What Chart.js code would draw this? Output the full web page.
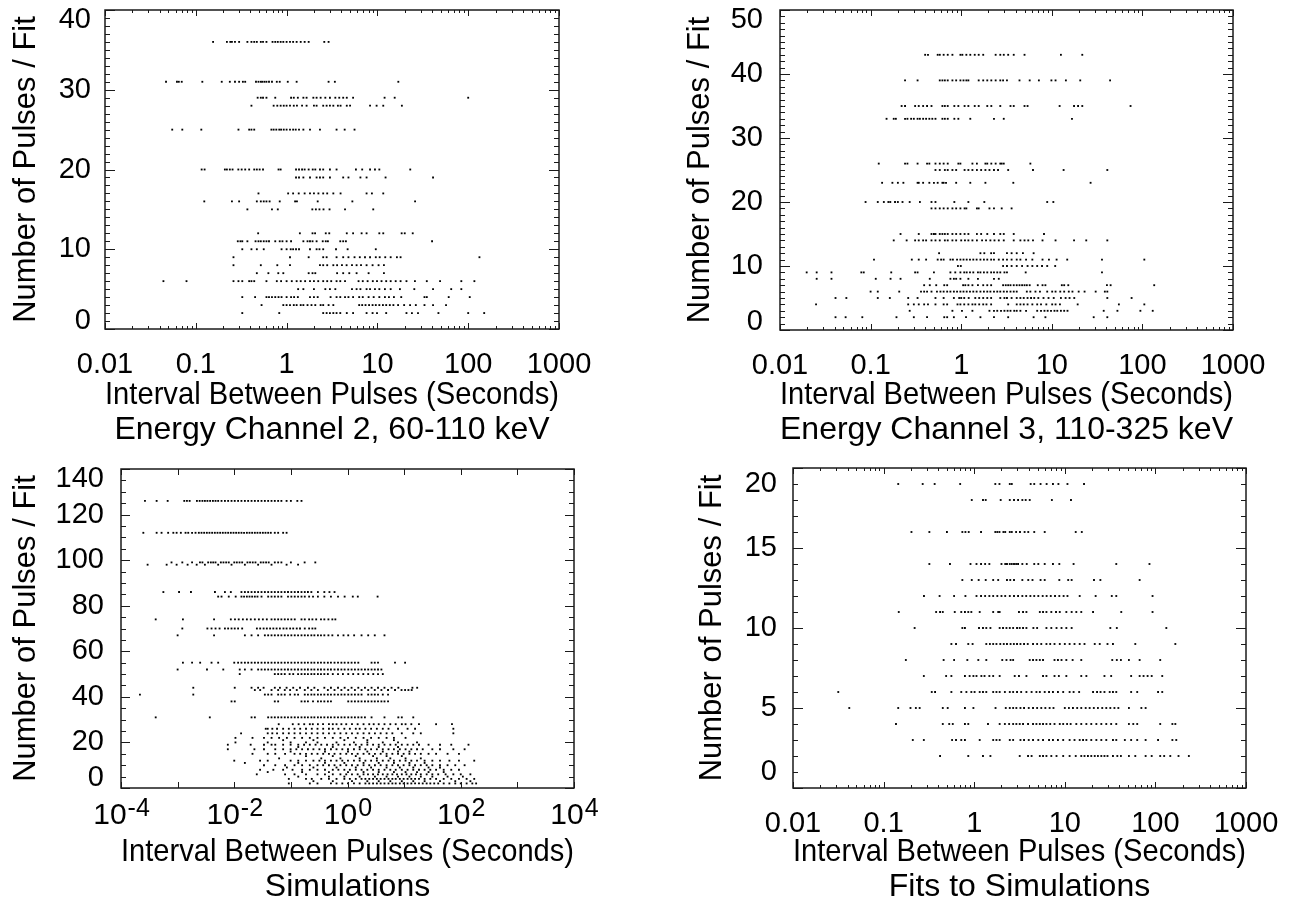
<!DOCTYPE html>
<html>
<head>
<meta charset="utf-8">
<title>Pulse Interval Distributions</title>
<script src="https://cdn.jsdelivr.net/npm/chart.js"></script>
<style>
  body { margin: 0; background: #ffffff; }
  #page { position: relative; width: 1299px; height: 909px; }
  canvas { position: absolute; }
</style>
</head>
<body>
<div id="page">
  <canvas id="ch2" width="650" height="450" style="left:0;top:0"></canvas>
  <canvas id="ch3" width="649" height="450" style="left:650px;top:0"></canvas>
  <canvas id="sim" width="650" height="459" style="left:0;top:450px"></canvas>
  <canvas id="fit" width="649" height="459" style="left:650px;top:450px"></canvas>
</div>
<script>
const FONT = "'Liberation Sans', Arial, Helvetica, sans-serif";
const xTitle = 'Interval Between Pulses (Seconds)';
const yTitle = 'Number of Pulses / Fit';

// tick values / labels
const decadeTicks = [0.01, 0.1, 1, 10, 100, 1000];
const decadeLabels = ['0.01', '0.1', '1', '10', '100', '1000'];
const simDecadeTicks = [1e-4, 1e-3, 1e-2, 1e-1, 1, 10, 100, 1000, 10000];
const simExponents = ['-4', '', '-2', '', '0', '', '2', '', '4'];
const ch2YTicks = [0, 10, 20, 30, 40];
const ch3YTicks = [0, 10, 20, 30, 40, 50];
const simYTicks = [0, 20, 40, 60, 80, 100, 120, 140];
const fitYTicks = [0, 5, 10, 15, 20];

// Energy channel 2: pulses per fit and the intervals (s) seen at that count
const ch2Counts = [36, 31, 29, 28, 25, 20, 19, 17, 16, 15, 12, 11, 10, 9, 8, 7, 6, 5, 4, 3, 2];
const ch2Intervals = [
  [0.155,0.22,0.24,0.25,0.27,0.30,0.37,0.41,0.44,0.47,0.52,0.55,0.60,0.70,0.75,0.80,0.86,0.92,1.0,1.09,1.18,1.29,1.43,1.58,1.75,2.6,2.9],
  [0.047,0.062,0.065,0.07,0.118,0.193,0.237,0.27,0.30,0.33,0.35,0.46,0.49,0.52,0.54,0.57,0.60,0.64,0.69,0.78,0.84,1.03,1.29,2.9,3.4,17],
  [0.48,0.52,0.55,0.60,0.75,1.12,1.2,1.33,1.53,1.66,1.97,2.14,2.37,2.67,3.0,3.44,3.8,4.2,4.6,5.4,12,15.5,100],
  [0.41,0.72,0.79,0.86,0.93,1.0,1.09,1.2,1.3,1.48,1.66,2.0,2.14,2.53,2.76,3.0,3.27,3.67,3.93,4.6,5.0,8.3,9.8,11.6,18.6],
  [0.055,0.071,0.115,0.295,0.387,0.41,0.44,0.68,0.72,0.77,0.83,0.87,0.93,1.0,1.09,1.18,1.26,1.37,1.53,1.81,2.33,3.55,4.36,5.6],
  [0.116,0.125,0.209,0.22,0.237,0.254,0.294,0.32,0.35,0.387,0.44,0.47,0.505,0.55,0.815,0.86,1.27,1.37,1.48,1.58,1.75,1.94,2.07,2.33,2.53,3.0,3.55,5.8,6.8,8.3,9.4,10.5,23],
  [1.27,1.37,1.53,1.81,2.14,2.33,2.53,3.0,4.2,4.8,6.5,7.6,12.3,41],
  [0.49,1.04,1.18,1.36,1.58,1.81,2.0,2.24,2.53,2.8,3.27,3.93,7.6,8.7,11.6],
  [0.124,0.25,0.30,0.47,0.52,0.56,0.60,0.65,0.84,1.24,1.3,2.2,5.3,26],
  [0.37,0.69,0.80,1.92,2.1,2.3,2.55,2.97,4.4,9.0],
  [0.486,1.4,1.93,2.06,2.7,2.95,4.6,5.4,6.7,7.6,10.5,11.6,18.5,20,24.5],
  [0.29,0.31,0.325,0.37,0.455,0.49,0.52,0.56,0.60,0.64,0.75,0.84,0.90,1.0,1.12,1.53,1.7,1.81,1.93,2.14,2.5,2.7,2.85,3.9,4.2,4.5,40],
  [0.325,0.41,0.47,0.56,0.88,1.0,1.11,1.18,1.27,1.37,1.81,2.14,2.3,2.53,3.5,4.7,9.6],
  [0.26,1.09,1.75,2.53,2.76,3.55,4.2,4.8,5.6,6.4,7.3,8.3,9.6,10.6,12.2,14,16.4,18,133],
  [0.26,0.52,0.79,1.09,2.33,2.53,2.8,3.27,3.6,4.07,4.58,5.25,5.9,6.6,7.6,8.85,10.3,11.8],
  [0.47,0.63,0.81,0.92,1.75,1.93,2.07,3.6,4.2,4.9,5.9,8.0,11.8],
  [0.044,0.079,0.26,0.295,0.325,0.387,0.41,0.44,0.60,0.78,0.87,1.0,1.14,1.29,1.43,1.6,1.81,2.0,2.23,2.53,2.8,3.1,3.55,3.9,4.4,6.2,6.9,7.8,8.9,9.9,11.1,12.5,14,15.9,18,20.9,25.9,35,49,84,117],
  [1.34,1.53,2.0,2.67,3.0,3.44,5.25,5.9,6.5,7.6,8.3,9.4,10.5,12.1,14,17.7,25.5,41,65,84],
  [0.325,0.45,0.60,0.64,0.69,0.75,0.815,0.88,1.0,1.12,1.21,1.33,1.81,2.0,2.2,3.05,3.55,3.9,4.4,4.8,5.4,6.3,6.9,8.0,9.1,10.5,12.1,13.4,15.2,18.3,33,35,61,104],
  [0.53,0.92,1.0,1.09,1.2,1.29,1.43,1.53,1.7,1.88,2.07,2.37,2.53,2.9,3.27,6.3,6.8,7.4,8.1,8.85,9.6,10.5,11.5,12.5,13.7,15,16.9,19.7,22.9,26.5,33,41,57],
  [0.325,0.83,2.53,2.76,3.0,3.27,3.55,3.9,4.6,5.4,7.6,8.85,9.9,12.5,20.9,24,28,47,100,150]
];

// Energy channel 3
const ch3Counts = [43, 39, 35, 33, 26, 25, 23, 20, 19, 15, 14, 12, 11, 10, 9, 8, 7, 6, 5, 4, 3, 2];
const ch3Intervals = [
  [0.40,0.43,0.55,0.58,0.64,0.71,0.80,0.98,1.03,1.14,1.26,1.41,1.56,1.75,2.4,2.7,2.95,3.3,3.8,5.0,12.6,21.7],
  [0.24,0.33,0.58,0.62,0.66,0.71,0.80,0.88,0.98,1.06,1.14,1.2,1.56,1.75,1.94,2.15,2.4,2.7,2.9,3.2,4.4,5.7,7.2,9.9,11,14.3,20.6,44],
  [0.22,0.24,0.31,0.34,0.38,0.42,0.47,0.62,0.66,0.71,0.84,0.93,1.09,1.2,1.41,1.56,1.94,2.15,2.7,3.5,3.8,5.0,5.4,12.2,17.6,19.5,21.7,74],
  [0.15,0.18,0.19,0.24,0.255,0.28,0.30,0.33,0.35,0.38,0.41,0.445,0.48,0.52,0.62,0.66,0.71,0.84,0.93,1.26,2.3,2.95,16.7],
  [0.123,0.24,0.255,0.33,0.42,0.445,0.52,0.58,0.64,0.71,0.93,0.98,1.33,1.49,1.85,1.94,2.15,2.4,2.7,2.8,2.95,5.8],
  [0.52,0.58,0.66,0.71,0.80,0.88,1.09,1.2,1.33,1.49,1.66,1.85,2.05,2.3,2.55,3.3,6.2,13.5,41],
  [0.134,0.174,0.20,0.23,0.33,0.34,0.38,0.445,0.50,0.55,0.62,0.64,0.68,0.88,1.26,1.85,3.76,26.8],
  [0.088,0.12,0.14,0.157,0.165,0.186,0.20,0.225,0.27,0.35,0.47,0.52,0.84,1.2,1.8,8.9,10.4],
  [0.47,0.52,0.58,0.64,0.71,0.80,0.88,0.98,1.09,1.14,1.49,1.56,2.05,2.3,2.8,3.6],
  [0.214,0.34,0.47,0.50,0.52,0.58,0.62,0.66,0.71,0.80,0.88,0.98,1.09,1.2,1.49,1.66,1.94,2.3,2.7,2.95,3.8,8.2],
  [0.18,0.25,0.31,0.34,0.38,0.41,0.47,0.52,0.58,0.66,0.71,0.80,0.88,1.0,1.1,1.2,1.33,1.49,1.7,1.88,2.1,2.33,2.6,2.95,3.8,4.5,5.0,5.5,6.2,7.9,11,17.6,24,41],
  [0.57,1.63,1.8,2.14,2.3,3.2,3.6,4.1,4.8,6.3],
  [0.109,0.285,0.34,0.41,0.55,0.60,0.64,0.76,0.81,0.90,0.98,1.06,1.15,1.25,1.36,1.48,1.63,1.78,1.94,2.14,2.3,2.6,2.9,3.2,3.6,4.1,4.5,5.2,6.1,7.9,9.3,11.3,14.8,35.8,105],
  [0.92,0.99,2.9,3.2,3.6,4.1,4.7,5.4,6.1,6.9,7.8,8.9,10.9],
  [0.0197,0.0254,0.037,0.079,0.084,0.169,0.31,0.33,0.50,0.76,0.86,0.98,1.08,1.15,1.25,1.36,1.53,1.63,1.78,1.94,2.14,2.3,2.5,2.7,3.0,3.2,5.15,35.8],
  [0.0254,0.037,0.114,0.166,0.214,0.45,0.76,0.83,0.88,0.98,1.2,1.53,2.3,2.6],
  [0.39,0.45,0.53,0.65,0.70,1.05,1.11,1.2,1.33,1.53,1.75,1.94,2.14,2.9,3.1,3.3,3.5,3.8,4.1,4.4,4.7,5.0,5.3,5.7,7.0,7.9,8.5,12.9,13.7,15.2,40.6,44.6,135],
  [0.1,0.12,0.207,0.36,0.39,0.42,0.47,0.54,0.59,0.64,0.70,0.76,0.83,0.90,0.98,1.06,1.15,1.25,1.36,1.48,1.63,1.78,1.94,2.1,2.3,2.5,2.7,2.95,3.2,3.5,3.8,4.1,5.3,5.8,6.6,7.4,8.9,10.1,11.0,12.4,13.7,15.4,16.9,19.8,23,30.5,38.5,41],
  [0.041,0.054,0.12,0.163,0.26,0.33,0.52,0.64,0.83,0.95,1.0,1.08,1.21,1.43,1.58,1.75,1.94,2.14,2.7,3.0,3.2,3.6,4.1,4.5,4.9,5.4,5.9,6.4,7.1,8.1,9.2,10.5,12.6,14.2,15.7,17.7,41,76],
  [0.025,0.26,0.30,0.34,0.39,0.43,0.52,0.64,0.70,0.91,0.98,1.08,1.2,1.33,1.43,1.58,1.75,1.9,2.14,3.3,4.1,4.5,4.9,5.4,6.1,6.9,7.6,8.7,10.1,11.0,12.3,19.3,55,105],
  [0.27,0.80,1.02,1.33,2.05,2.3,2.5,2.75,3.0,3.25,3.5,3.85,4.1,4.5,5.2,6.9,7.6,8.3,9.0,9.8,10.7,11.5,12.6,13.7,14.9,37.4,53,95,130],
  [0.041,0.053,0.081,0.193,0.30,0.42,0.65,0.70,0.83,1.13,1.63,2.3,3.3,6.3,8.5,29,41]
];

// Simulations
const simCounts = [126, 112, 99, 98, 86, 84, 74, 70, 67, 55, 52, 50, 44, 43, 41, 38, 31, 28, 26, 24, 22, 21, 20, 19, 18, 17, 16, 15, 14, 13, 12, 11, 10, 9, 8, 7, 6, 5, 4, 3, 2];
const simIntervals = [
  [2.65e-4,4.26e-4,6.67e-4,1.31e-3,1.46e-3,1.63e-3,2.19e-3,2.45e-3,2.74e-3,3.03e-3,3.36e-3,3.75e-3,4.2e-3,4.67e-3,5.2e-3,5.96e-3,6.84e-3,7.8e-3,8.95e-3,0.0102,0.0117,0.0134,0.0154,0.0176,0.0202,0.0231,0.0264,0.0303,0.0347,0.0397,0.0455,0.052,0.0596,0.068,0.084,0.1,0.13,0.154],
  [2.48e-4,4.26e-4,5.2e-4,6.8e-4,8.4e-4,9.6e-4,1.14e-3,1.38e-3,1.54e-3,1.8e-3,2.07e-3,2.37e-3,2.64e-3,2.94e-3,3.28e-3,3.65e-3,4.07e-3,4.54e-3,5.06e-3,5.64e-3,6.28e-3,7e-3,7.8e-3,8.7e-3,9.7e-3,0.0108,0.012,0.0134,0.0149,0.0167,0.0186,0.0207,0.0231,0.0257,0.0287,0.032,0.0356,0.0397,0.0442,0.052,0.0596,0.073,0.084],
  [7.8e-4,1.21e-3,1.8e-3,2.48e-3,2.74e-3,3.46e-3,3.86e-3,4.25e-3,4.67e-3,5.8e-3,6.45e-3,7.2e-3,8e-3,0.01,0.0111,0.0124,0.0138,0.0171,0.019,0.0212,0.0237,0.0294,0.0327,0.0365,0.0406,0.052,0.0596,0.068,0.1,0.175,0.27],
  [2.95e-4,6.4e-4,9.6e-4,1.5e-3,2.17e-3,3.03e-3,5.2e-3,8.95e-3,0.0154,0.0264,0.0455,0.084,0.134],
  [5.6e-4,1.06e-3,1.72e-3,4.56e-3,6.84e-3,8.7e-3,0.0134,0.0154,0.0176,0.0202,0.0231,0.0264,0.0303,0.0347,0.0397,0.0455,0.052,0.0596,0.068,0.078,0.089,0.102,0.117,0.134,0.154,0.176,0.2,0.23,0.30,0.39,0.48,0.59],
  [5.2e-3,5.96e-3,8e-3,0.0106,0.0134,0.0149,0.0167,0.0186,0.0207,0.0231,0.0257,0.0303,0.0397,0.0455,0.052,0.0596,0.068,0.089,0.102,0.117,0.134,0.154,0.176,0.21,0.246,0.30,0.39,0.51,0.68,0.89,1.24,1.52,3.4],
  [4.1e-4,1.24e-3,4.4e-3,8.7e-3,0.0103,0.012,0.0142,0.0167,0.0196,0.0231,0.0272,0.032,0.0376,0.0455,0.052,0.0596,0.068,0.078,0.089,0.102,0.117,0.154,0.176,0.21,0.24,0.28,0.34,0.39,0.46,0.54,0.61],
  [1.21e-3,3.36e-3,3.97e-3,4.67e-3,5.5e-3,6.84e-3,7.8e-3,8.95e-3,0.0102,0.0117,0.0138,0.0251,0.0287,0.033,0.0376,0.043,0.049,0.056,0.064,0.074,0.084,0.097,0.11,0.127,0.145,0.176,0.21,0.24,0.27],
  [1.0e-3,4.4e-3,0.0154,0.0202,0.0264,0.0347,0.0397,0.0455,0.052,0.0596,0.068,0.078,0.089,0.102,0.117,0.134,0.154,0.176,0.2,0.23,0.26,0.30,0.34,0.39,0.46,0.54,0.68,0.85,1.03,1.31,1.77,2.32,3.03,4.5],
  [1.24e-3,1.8e-3,2.5e-3,3.97e-3,5.2e-3,0.01,0.0117,0.0134,0.0154,0.0176,0.0202,0.0231,0.0264,0.0303,0.0347,0.0397,0.0455,0.052,0.0596,0.068,0.078,0.089,0.102,0.117,0.134,0.154,0.176,0.2,0.23,0.26,0.30,0.34,0.39,0.45,0.51,0.59,0.68,0.78,0.89,1.03,1.18,1.35,1.55,2.66,3.03,3.46,6.9,10.4],
  [1.0e-3,3.3e-3,6.4e-3,0.0125,0.0154,0.0202,0.0264,0.0303,0.0347,0.0397,0.0455,0.052,0.0596,0.068,0.078,0.089,0.102,0.117,0.134,0.154,0.176,0.2,0.23,0.26,0.30,0.34,0.39,0.45,0.51,0.59,0.68,0.78,0.89,1.03,1.18,1.35,1.55,1.77,2.03,2.32,2.66,3.03,3.46,3.97],
  [0.0125,0.052,0.0596,0.068,0.078,0.095,0.11,0.134,0.154,0.176,0.2,0.23,0.26,0.30,0.34,0.39,0.45,0.55,0.68,0.83,1.03,1.26,1.55,1.9,2.32,2.85,3.46,4.2],
  [1.89e-3,0.0102,0.0202,0.0264,0.033,0.052,0.064,0.084,0.11,0.145,0.2,0.26,0.39,0.51,0.68,0.89,1.18,1.55,2.03,2.66,3.46,4.5,6.0,7.9,14,17],
  [0.0231,0.0287,0.0455,0.0596,0.078,0.097,0.127,0.176,0.23,0.30,0.45,0.59,0.78,1.03,1.35,1.77,2.32,3.03,3.97,5.2,6.9,9.0,10.4,11.9,13.6],
  [2.16e-4,1.89e-3,0.0347,0.0397,0.0455,0.0596,0.068,0.078,0.097,0.117,0.134,0.176,0.2,0.23,0.26,0.30,0.34,0.39,0.45,0.51,0.59,0.68,0.78,0.89,1.03,1.18,1.35,1.55,1.77,2.32,2.66,3.03,3.46,4.2,5.2],
  [8.95e-3,0.0102,0.052,0.0596,0.154,0.176,0.2,0.246,0.30,0.34,0.39,0.45,0.51,1.03,1.18,1.35,1.55,1.77,2.03,2.32,2.66,3.03,3.46,3.97,4.5,5.2],
  [4.1e-4,3.7e-3,0.0202,0.0231,0.0397,0.0455,0.052,0.0596,0.068,0.078,0.089,0.102,0.117,0.134,0.154,0.176,0.2,0.23,0.26,0.30,0.34,0.39,0.45,0.51,0.59,0.68,0.78,0.89,1.03,1.18,1.35,1.55,1.77,2.03,2.66,4.5,7.9,9.1,14.5],
  [0.061,0.108,0.137,0.172,0.216,0.244,0.30,0.37,0.47,0.55,0.64,0.78,0.95,1.2,1.51,1.92,2.42,2.9,3.56,4.5,5.7,7.1,9.1,10.6,13.4,18.3,36.7,70],
  [0.036,0.039,0.047,0.057,0.073,0.092,0.116,0.146,0.185,0.234,0.295,0.372,0.47,0.55,0.69,0.88,1.1,1.4,1.64,2.07,2.61,3.3,4.2,5.3,7.8,11.5,15.6,74],
  [0.0132,0.039,0.047,0.057,0.073,0.092,0.116,0.146,0.185,0.234,0.295,0.372,0.47,0.59,0.75,0.95,1.2,1.51,1.92,2.42,3.05,3.85,4.9,6.2,9.1,14.5,19.7,74],
  [0.0105,0.021,0.0335,0.0456,0.062,0.085,0.116,0.158,0.216,0.295,0.40,0.55,0.75,1.02,1.4,1.92,2.61,3.56,4.9,6.6,10.6],
  [0.073,0.25,0.88,2.24,6.6],
  [0.0105,0.039,0.099,0.185,0.295,0.64,1.3,2.24,4.2,7.8,16.9],
  [7.7e-3,0.0195,0.0335,0.0456,0.053,0.073,0.099,0.135,0.171,0.216,0.273,0.344,0.435,0.55,0.69,0.88,1.1,1.4,1.77,2.24,2.83,3.56,4.5,5.7,7.1,9.1,11.5,14.5,18.3,27,43,68,137],
  [0.135,0.55,1.64,3.56,7.8],
  [7.7e-3,0.0227,0.0335,0.053,0.073,0.099,0.125,0.158,0.2,0.25,0.319,0.40,0.51,0.64,0.81,1.02,1.3,1.64,2.07,2.61,3.3,4.2,5.3,6.6,8.4,10.6,13.4,16.9,21.3,31.5,43,74,117],
  [0.099,0.40,1.02,2.24,4.2,7.8,12.4],
  [0.021,0.039,0.053,0.079,0.116,0.146,0.185,0.234,0.295,0.372,0.47,0.59,0.75,0.95,1.2,1.51,1.92,2.42,3.05,3.85,4.9,6.2,7.8,9.8,12.4,15.6,19.7,27,36.7,58.5,93],
  [0.185,0.55,1.4,2.83,4.9,9.1],
  [0.062,0.344,0.75,1.64,3.3,5.7,10.6,19.7],
  [0.01,0.0286,0.039,0.099,0.135,0.185,0.25,0.319,0.40,0.51,0.64,0.81,1.02,1.3,1.64,2.07,2.61,3.3,4.2,5.3,6.6,8.4,10.6,13.4,16.9,23,31.5,43,63,93,173],
  [0.0154,0.135,0.40,0.88,1.92,3.56,6.6,12.4,23],
  [0.0335,0.053,0.079,0.116,0.158,0.216,0.295,0.372,0.47,0.59,0.75,0.95,1.2,1.51,1.92,2.42,3.05,3.85,4.9,6.2,7.8,9.8,12.4,15.6,19.7,25,31.5,43,58.5,80,117],
  [0.085,0.25,0.64,1.4,2.61,4.9,8.4,14.5,27,43],
  [0.0286,0.049,0.073,0.107,0.158,0.216,0.295,0.40,0.55,0.69,0.88,1.1,1.4,1.77,2.24,2.83,3.56,4.5,5.7,7.1,9.1,11.5,14.5,18.3,23,29,36.7,50,68,93],
  [0.039,0.158,0.47,1.02,1.92,3.56,6.6,10.6,16.9,27,50],
  [0.025,0.079,0.116,0.185,0.295,0.40,0.55,0.75,0.95,1.2,1.51,1.92,2.3,2.83,3.45,4.2,5.1,6.2,7.5,9.1,11,13.4,16.2,19.7,25,31.5,40,54,74,100,148],
  [0.135,0.47,0.88,1.64,3.05,4.9,7.8,12.4,19.7,31.5,58.5,109],
  [0.092,0.185,0.234,0.344,0.47,0.64,0.88,1.1,1.4,1.77,2.07,2.42,2.83,3.3,3.85,4.5,5.3,6.2,7.1,8.4,9.8,11.5,13.4,15.6,18.3,23,29,36.7,50,68,93,127,173],
  [0.25,0.55,1.2,2.24,3.56,5.7,9.1,14.5,23,43,80,148],
  [0.092,0.216,0.295,0.51,0.64,0.81,1.02,1.3,1.64,2.07,2.42,2.83,3.3,3.85,4.5,5.3,6.2,7.1,8.4,9.8,11.5,13.4,15.6,18.3,21.3,25,29,34,40,50,63,80,100,127,160,187]
];

// Fits to simulations
const fitCounts = [19, 18, 16, 14, 13, 12, 11, 10, 9, 8, 7, 6, 5, 4, 3, 2];
const fitIntervals = [
  [0.145,0.27,0.366,0.70,1.71,1.9,2.47,2.6,4.2,4.6,5.4,6.3,7.4,8.5,10.7,16.3],
  [0.94,1.25,1.34,1.96,2.47,2.75,3.05,3.4,3.7,4.1,7.2,11.7],
  [0.203,0.32,0.50,0.74,0.80,0.87,1.19,1.71,1.8,1.9,2.1,2.2,2.47,2.6,2.9,3.2,3.6,3.95,4.6,6.0,13.2,15.4],
  [0.32,0.54,0.91,1.06,1.19,1.32,1.47,2.0,2.2,2.3,2.47,2.6,2.75,2.9,3.05,3.4,3.8,4.6,5.1,6.0,7.4,8.7,12.5,37,86],
  [0.74,0.94,1.12,1.34,1.62,1.84,2.3,2.5,2.75,3.4,3.95,4.4,5.4,6.0,8.7,10.9,11.9,21,24.7,67],
  [0.279,0.415,0.60,0.80,1.06,1.19,1.32,1.47,1.62,1.8,2.0,2.2,2.47,2.75,3.05,3.4,3.75,4.17,4.6,5.1,5.7,6.3,7.0,7.8,8.7,9.7,10.7,14.6,21.9,33,37,93],
  [0.147,0.38,0.42,0.45,0.61,0.72,0.79,0.86,0.93,1.15,1.62,1.84,1.91,3.12,3.46,3.77,5.3,5.75,6.27,7.1,8.0,8.8,10.4,11.9,13.4,15.2,20.5,42,93],
  [0.22,0.74,0.79,1.13,1.25,1.36,1.51,1.91,2.08,2.27,2.47,2.69,2.97,3.18,3.46,3.77,4.5,4.95,6.27,7.1,8.1,9.2,10.4,11.9,31.8,37.5,132],
  [0.56,0.63,0.86,0.96,1.36,1.49,1.62,1.76,1.94,2.12,2.3,2.52,2.74,2.97,3.24,3.55,3.9,4.46,4.95,5.5,6.27,6.9,7.7,8.8,10.0,11.3,12.8,14.6,16.5,21.4,24.3,29.6,34,60,166],
  [0.176,0.46,0.60,0.84,1.11,1.36,2.04,2.27,2.52,2.69,4.1,4.46,4.86,5.3,5.75,7.7,8.4,9.2,10.4,12.2,15.2,33.4,37.5,41.6,51,67,113],
  [0.278,0.49,0.56,0.79,0.89,0.98,1.06,1.2,1.3,1.47,1.62,1.91,2.8,3.12,3.77,5.75,6.27,7.7,8.6,10.4,15.2,17.3,27.4,32.5,54,67,74,82,91,119],
  [0.0316,0.34,0.37,0.56,0.72,0.82,0.93,1.01,1.15,1.25,1.36,1.62,1.76,1.91,2.18,2.47,2.69,2.97,3.3,3.77,4.3,4.86,5.3,6.0,6.7,7.4,8.4,9.6,11.3,12.5,14.4,20.5,22.7,24.8,27.4,31.3,34,37,54,63,107,119],
  [0.0418,0.145,0.198,0.227,0.25,0.45,0.51,0.79,0.98,1.72,2.23,2.47,2.69,2.92,3.24,3.55,4.0,4.46,4.95,5.5,6.1,6.8,7.5,10.0,11.1,12.3,13.7,15.2,17,18.8,20.9,23.2,25.9,28.7,31.8,35.3,39,51,70,78],
  [0.137,0.45,0.53,0.58,0.79,0.86,1.42,1.91,2.18,2.43,2.69,2.92,3.18,3.46,3.93,4.46,4.86,5.3,5.75,6.27,6.9,7.7,8.8,9.6,10.6,11.6,13.4,15.2,17.3,19.6,22.3,25.3,28.7,32.5,37,51,57,63,113,154,166],
  [0.21,0.278,0.57,0.63,0.72,0.79,1.15,1.62,1.76,1.91,2.47,2.69,3.24,3.55,4.0,4.46,5.1,5.75,6.7,7.4,8.4,9.6,11.3,12.8,14.6,15.9,17.3,19.6,22.3,25.3,28.7,34,37,46,54,63,78,107,154,170],
  [0.42,0.86,1.25,1.51,3.18,3.93,4.3,5.3,5.75,6.27,7.1,8.1,9.6,11.3,13.2,15.2,16.5,18,19.6,21.4,23.2,25.3,27.4,29.6,34,38,41.6,51,60,78,91,113,125,146,180,234]
];

function toPoints(counts, intervals) {
  const pts = [];
  counts.forEach((n, i) => intervals[i].forEach(t => pts.push({ x: t, y: n })));
  return pts;
}

// box with inward ticks on all four sides, like the original plotting package
const idlFrame = {
  id: 'idlFrame',
  afterDatasetsDraw(chart, args, o) {
    const { ctx, chartArea: a } = chart;
    const x = chart.scales.x, y = chart.scales.y;
    ctx.save();
    ctx.strokeStyle = '#1a1a1a';
    ctx.lineWidth = 1;
    ctx.beginPath();
    const xt = (v, len) => {
      const px = Math.round(x.getPixelForValue(v)) + 0.5;
      ctx.moveTo(px, a.bottom); ctx.lineTo(px, a.bottom - len);
      ctx.moveTo(px, a.top); ctx.lineTo(px, a.top + len);
    };
    const yt = (v, len) => {
      const py = Math.round(y.getPixelForValue(v)) + 0.5;
      ctx.moveTo(a.left, py); ctx.lineTo(a.left + len, py);
      ctx.moveTo(a.right, py); ctx.lineTo(a.right - len, py);
    };
    x.ticks.forEach((t, i) => {
      xt(t.value, o.xMajor);
      if (o.xMinor && i < x.ticks.length - 1) {
        for (let k = 2; k < 10; k++) xt(t.value * k, o.xMinor);
      }
    });
    for (let v = y.min; v <= y.max; v += o.yStep) yt(v, o.yMinor);
    y.ticks.forEach(t => yt(t.value, o.yMajor));
    ctx.stroke();
    ctx.lineWidth = 1.5;
    ctx.strokeRect(a.left, a.top, a.right - a.left, a.bottom - a.top);
    ctx.restore();
  }
};

// "10^n" tick labels for the simulations panel
const powerLabels = {
  id: 'powerLabels',
  afterDraw(chart, args, o) {
    if (!o.exponents) return;
    const { ctx, chartArea: a } = chart;
    const x = chart.scales.x;
    ctx.save();
    ctx.fillStyle = '#000';
    ctx.textAlign = 'left';
    x.ticks.forEach((t, i) => {
      const e = o.exponents[i];
      if (!e) return;
      ctx.font = '30px ' + FONT;
      const wb = ctx.measureText('10').width;
      ctx.font = '25px ' + FONT;
      const we = ctx.measureText(e).width;
      const left = x.getPixelForValue(t.value) - (wb + we) / 2;
      const cy = a.bottom + o.offset;
      ctx.font = '30px ' + FONT;
      ctx.textBaseline = 'middle';
      ctx.fillText('10', left, cy);
      ctx.font = '25px ' + FONT;
      ctx.textBaseline = 'alphabetic';
      ctx.fillText(e, left + wb + 1, cy);
    });
    ctx.restore();
  }
};

const panels = [
  { id: 'ch2', counts: ch2Counts, intervals: ch2Intervals, xTicks: decadeTicks, xLabels: decadeLabels, yTicks: ch2YTicks,
    caption: 'Energy Channel 2, 60-110 keV', padTop: 10, padRight: 91, xAxisHeight: 121, yAxisWidth: 105,
    yLabelPad: 6, yTitlePad: 9, titlePad: 2, topShift: 10, bottomShift: 8,
    frame: { xMajor: 6, xMinor: 3, yMajor: 10, yMinor: 5, yStep: 1 } },
  { id: 'ch3', counts: ch3Counts, intervals: ch3Intervals, xTicks: decadeTicks, xLabels: decadeLabels, yTicks: ch3YTicks,
    caption: 'Energy Channel 3, 110-325 keV', padTop: 10, padRight: 66, xAxisHeight: 120, yAxisWidth: 130,
    yLabelPad: 9, yTitlePad: 33, titlePad: 2, topShift: 10, bottomShift: 8,
    frame: { xMajor: 6, xMinor: 3, yMajor: 10, yMinor: 5, yStep: 1 } },
  { id: 'sim', counts: simCounts, intervals: simIntervals, xTicks: simDecadeTicks, exponents: simExponents, yTicks: simYTicks,
    caption: 'Simulations', padTop: 19, padRight: 76, xAxisHeight: 121, yAxisWidth: 121,
    yLabelPad: 9, yTitlePad: 9, titlePad: 4, topShift: 10, bottomShift: 10,
    frame: { xMajor: 6, xMinor: 0, yMajor: 9, yMinor: 5, yStep: 5 } },
  { id: 'fit', counts: fitCounts, intervals: fitIntervals, xTicks: decadeTicks, xLabels: decadeLabels, yTicks: fitYTicks,
    caption: 'Fits to Simulations', padTop: 18, padRight: 53, xAxisHeight: 121, yAxisWidth: 143,
    yLabelPad: 8, yTitlePad: 45, titlePad: 4, topShift: 16, bottomShift: 16,
    frame: { xMajor: 6, xMinor: 3, yMajor: 10, yMinor: 5, yStep: 1 } }
];

panels.forEach(p => {
  const lastY = p.yTicks.length - 1;
  new Chart(document.getElementById(p.id), {
    type: 'scatter',
    data: {
      datasets: [{
        data: toPoints(p.counts, p.intervals),
        pointStyle: 'rect',
        pointRadius: 1.3,
        pointHoverRadius: 1.3,
        borderWidth: 0,
        backgroundColor: '#000'
      }]
    },
    options: {
      responsive: false,
      animation: false,
      devicePixelRatio: 1,
      events: [],
      layout: { padding: { left: 0, right: p.padRight, top: p.padTop, bottom: 0 } },
      plugins: {
        legend: { display: false },
        tooltip: { enabled: false },
        idlFrame: p.frame,
        powerLabels: { exponents: p.exponents, offset: 28 }
      },
      scales: {
        x: {
          type: 'logarithmic',
          min: p.xTicks[0],
          max: p.xTicks[p.xTicks.length - 1],
          grid: { display: false },
          border: { display: false },
          afterBuildTicks: s => { s.ticks = p.xTicks.map(v => ({ value: v })); },
          afterFit: s => { s.height = p.xAxisHeight; s.paddingLeft = 0; s.paddingRight = 0; },
          ticks: {
            display: !p.exponents,
            autoSkip: false,
            maxRotation: 0,
            padding: 11,
            color: '#000',
            font: { family: FONT, size: 29 },
            callback: (v, i) => p.xLabels ? p.xLabels[i] : ''
          },
          title: {
            display: true,
            text: [xTitle, p.caption],
            color: '#000',
            font: { family: FONT, size: 32, lineHeight: '35px' },
            padding: { top: 0, bottom: p.titlePad }
          }
        },
        y: {
          type: 'linear',
          min: 0,
          max: p.yTicks[lastY],
          grid: { display: false },
          border: { display: false },
          afterBuildTicks: s => { s.ticks = p.yTicks.map(v => ({ value: v })); },
          afterFit: s => { s.width = p.yAxisWidth; s.paddingTop = 0; s.paddingBottom = 0; },
          ticks: {
            padding: p.yLabelPad,
            color: '#000',
            // end labels are nudged inside the box, as in the original
            font: c => ({
              family: FONT,
              size: 29,
              lineHeight: c.index === 0 ? (2 * p.bottomShift) + 'px' : c.index === lastY ? (2 * p.topShift) + 'px' : 1.2
            }),
            callback: (v, i) => i === 0 ? [String(v), ''] : i === lastY ? ['', String(v)] : String(v)
          },
          title: {
            display: true,
            text: yTitle,
            color: '#000',
            font: { family: FONT, size: 31, lineHeight: '35px' },
            padding: { top: p.yTitlePad, bottom: 0 }
          }
        }
      }
    },
    plugins: [idlFrame, powerLabels]
  });
});
</script>
</body>
</html>
